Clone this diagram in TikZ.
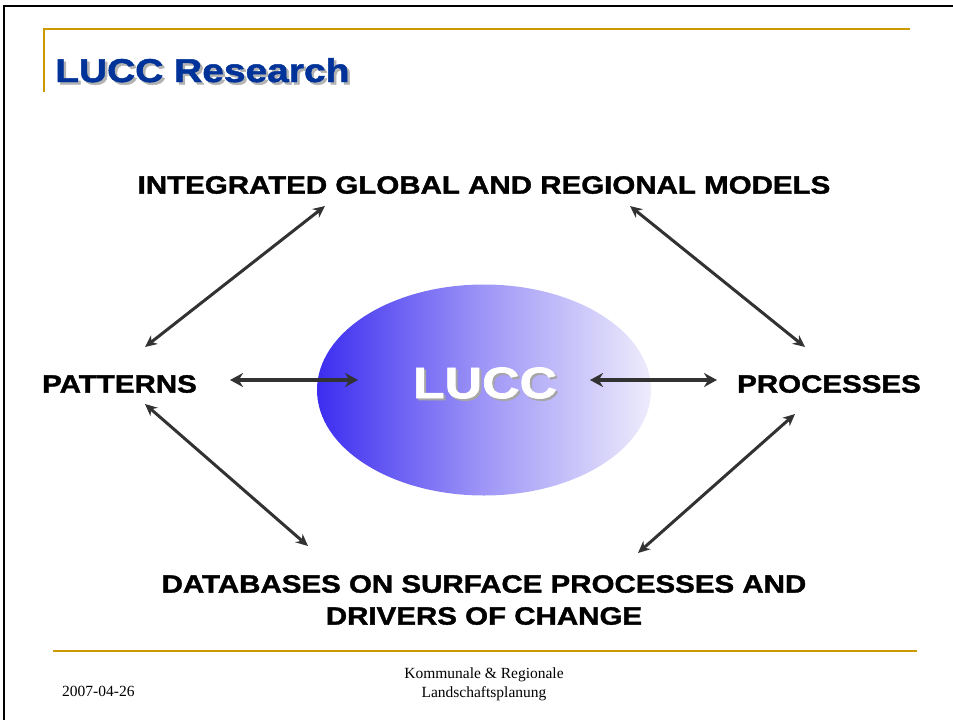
\documentclass[tikz,border=0pt]{standalone}
\usepackage{fontspec}
\setmainfont{Liberation Sans}[BoldFeatures={FakeStretch=1.18,FakeBold=1.5}]
\newfontfamily\serifft{Liberation Serif}
\usetikzlibrary{shapes.geometric,arrows.meta}
\definecolor{gold}{RGB}{204,153,0}
\definecolor{titleblue}{RGB}{0,51,153}
\definecolor{arrowgrey}{RGB}{50,50,50}
\definecolor{ellleft}{RGB}{60,45,240}
\definecolor{ellright}{RGB}{238,236,252}
\tikzset{
  lbl/.style={font=\fontsize{25}{28}\selectfont\bfseries, text=black, inner sep=0pt, align=center},
  dbl/.style={draw=arrowgrey, line width=3pt, {Stealth[length=12pt,width=11pt]}-{Stealth[length=12pt,width=11pt]}},
  hdbl/.style={draw=arrowgrey, line width=4.5pt, {Stealth[length=13pt,width=14pt]}-{Stealth[length=13pt,width=14pt]}},
  foot/.style={font=\serifft\fontsize{15.5}{19}\selectfont, inner sep=0pt, align=center}
}
\begin{document}
\begin{tikzpicture}[x=1pt,y=-1pt]
\useasboundingbox (0,0) rectangle (953,720);
% frame
\draw[line width=2.5pt] (4,720) -- (4,6) -- (953,6);
% gold lines
\draw[gold, line width=1.5pt] (44,92) -- (44,29) -- (910,29);
\draw[gold, line width=2pt] (53,651) -- (917,651);
% title
\node (titleshadow) [anchor=base west, inner sep=0pt, text=black!30, font=\fontsize{33}{36}\selectfont\bfseries] at (57.5,84.5) {LUCC Research};
\node (title) [anchor=base west, inner sep=0pt, text=titleblue, font=\fontsize{33}{36}\selectfont\bfseries] at (55,82) {LUCC Research};
% ellipse
\node (lucc) [ellipse, minimum width=334pt, minimum height=211pt, inner sep=0pt, left color=ellleft, right color=ellright, middle color=ellleft!45!ellright, draw=none] at (484,390) {};
\node (luccshadow) [text=black!35, font=\fontsize{44}{48}\selectfont\bfseries, inner sep=0pt] at (487,385) {LUCC};
\node (lucctext) [text=white, font=\fontsize{44}{48}\selectfont\bfseries, inner sep=0pt] at (485,383) {LUCC};
% labels
\node (models) [lbl] at (484,185) {INTEGRATED GLOBAL AND REGIONAL MODELS};
\node (patterns) [lbl, anchor=west] at (42,384) {PATTERNS};
\node (processes) [lbl, anchor=east] at (921,384) {PROCESSES};
\node (db) [lbl, font=\fontsize{25}{32}\selectfont\bfseries] at (484,600) {DATABASES ON SURFACE PROCESSES AND\\DRIVERS OF CHANGE};
% footer
\node (date) [foot, anchor=west] at (62,691) {2007-04-26};
\node (inst) [foot] at (484,684) {Kommunale \& Regionale\\Landschaftsplanung};
% arrow end points
\coordinate (a1) at (145,347); \coordinate (b1) at (325,206);
\coordinate (a2) at (630,206); \coordinate (b2) at (805,347);
\coordinate (a3) at (145,404); \coordinate (b3) at (308,546);
\coordinate (a4) at (638,553); \coordinate (b4) at (795,414);
\coordinate (a5) at (230,380); \coordinate (b5) at (358,380);
\coordinate (a6) at (590,380); \coordinate (b6) at (717,380);
\draw[dbl] (a1) -- (b1);
\draw[dbl] (a2) -- (b2);
\draw[dbl] (a3) -- (b3);
\draw[dbl] (a4) -- (b4);
\draw[hdbl] (a5) -- (b5);
\draw[hdbl] (a6) -- (b6);
\end{tikzpicture}
\end{document}
